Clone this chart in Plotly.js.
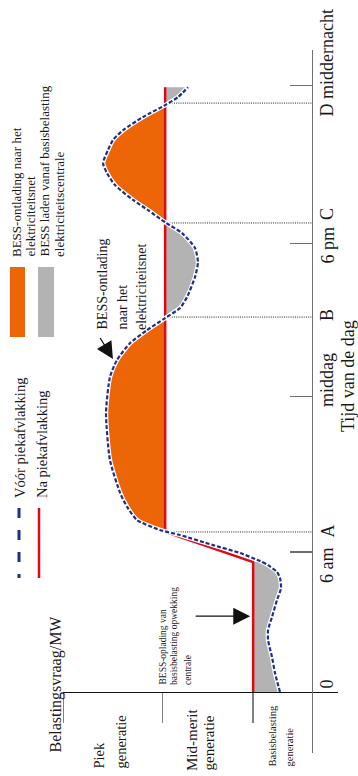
<!DOCTYPE html>
<html><head><meta charset="utf-8">
<script src="https://cdn.plot.ly/plotly-3.0.1.min.js"></script>
<style>html,body{margin:0;padding:0;background:#fff}</style>
</head><body><div id="chart" style="width:358px;height:776px"></div>
<script>
// ---- data (time of day in hours, demand in relative MW units) ----
const tBefore = [0.00,0.75,1.38,2.06,2.45,2.97,3.64,4.11,4.51,4.75,5.02,5.18,5.50,5.81,6.21,6.41,6.80,7.32,7.87,9.17,11.03,12.46,13.13,13.80,14.31,14.79,15.19,15.62,16.41,17.00,17.56,18.15,18.55,19.06,19.46,20.05,20.52,20.92,21.43,21.83,22.22,22.74,23.21,23.53,23.92];
const dBefore = [12.9,14.9,16.1,17.7,17.7,16.1,14.1,12.5,12.9,14.1,17.7,20.9,29.0,39.8,53.1,61.2,70.4,74.4,77.2,81.3,82.9,81.3,78.5,73.2,66.4,59.1,53.1,50.3,47.1,45.9,47.1,52.3,58.7,66.0,72.0,79.3,82.5,84.1,82.1,80.1,76.0,68.0,59.1,53.9,49.9];
const tAfter = [0, 5.14, 6.33, 23.92];
const dAfter = [23.7, 23.7, 59.1, 59.1];
const tCross = [6.33, 14.83, 18.55, 23.29];
const crossLabels = ['A', 'B', 'C', 'D'];
const timeTicks = [5.54, 11.7, 17.75, 24.0];
const demandTicks = [100, 60.3, 23.7];
const seriesNames = ['Vóór piekafvlakking', 'Na piekafvlakking'];
const areaNames = ['BESS-ontlading naar het', 'elektriciteitsnet', 'BESS laden vanaf basisbelasting', 'elektriciteitscentrale'];

// ---- layout geometry ----
const W = 358, H = 776, L = 63, R = 20, T = 50, B = 23;
const PW = W - L - R, PH = H - T - B;
const px = x => (x - L) / PW;
const py = y => (H - B - y) / PH;
const FONT = '"Liberation Serif", "Times New Roman", serif';
const ORANGE = '#EC6608', GRAY = '#B3B3B3', RED = '#E30613', BLUE = '#1D2F8C';

function interp(ts, ds, t) {
  for (let i = 0; i < ts.length - 1; i++) {
    if (t >= ts[i] && t <= ts[i + 1]) {
      const f = (t - ts[i]) / (ts[i + 1] - ts[i]);
      return ds[i] + f * (ds[i + 1] - ds[i]);
    }
  }
  return ds[ds.length - 1];
}
function region(t1, t2, color) {
  const xs = [], ys = [];
  xs.push(interp(tBefore, dBefore, t1)); ys.push(t1);
  tBefore.forEach((t, i) => { if (t > t1 && t < t2) { xs.push(dBefore[i]); ys.push(t); } });
  xs.push(interp(tBefore, dBefore, t2)); ys.push(t2);
  xs.push(interp(tAfter, dAfter, t2)); ys.push(t2);
  for (let i = tAfter.length - 1; i >= 0; i--) { if (tAfter[i] > t1 && tAfter[i] < t2) { xs.push(dAfter[i]); ys.push(tAfter[i]); } }
  xs.push(interp(tAfter, dAfter, t1)); ys.push(t1);
  return { x: xs, y: ys, type: 'scatter', mode: 'lines', fill: 'toself', fillcolor: color, line: { width: 0, color: color }, hoverinfo: 'skip', showlegend: false };
}

const traces = [
  region(0, tAfter[1], GRAY),
  region(tCross[0], tCross[1], ORANGE),
  region(tCross[1], tCross[2], GRAY),
  region(tCross[2], tCross[3], ORANGE),
  region(tCross[3], tAfter[tAfter.length - 1], GRAY)
];
// dotted guide lines at A-D
const dx = [], dy = [];
tCross.forEach(t => { dx.push(interp(tAfter, dAfter, t), 0, null); dy.push(t, t, null); });
traces.push({ x: dx, y: dy, type: 'scatter', mode: 'lines', line: { color: '#222', width: 1, dash: '1px,1.2px' }, hoverinfo: 'skip', showlegend: false });
traces.push({ x: dAfter, y: tAfter, type: 'scatter', mode: 'lines', name: seriesNames[1], line: { color: RED, width: 2.5 }, showlegend: false });
traces.push({ x: dBefore, y: tBefore, type: 'scatter', mode: 'lines', line: { color: '#fff', width: 4.5, shape: 'spline', smoothing: 0.6 }, hoverinfo: 'skip', showlegend: false });
traces.push({ x: dBefore, y: tBefore, type: 'scatter', mode: 'lines', name: seriesNames[0], line: { color: BLUE, width: 2.2, dash: '4px,2px', shape: 'spline', smoothing: 0.6 }, showlegend: false });

// ---- text ----
const ann = [];
function rt(text, x, y, size, yanchor, yref) {
  ann.push({ text: text, xref: 'paper', yref: yref || 'paper', x: px(x), y: yref === 'y' ? y : py(y), xanchor: 'center', yanchor: yanchor || 'bottom', textangle: -90, showarrow: false, font: { family: FONT, size: size, color: '#1a1a1a' }, borderpad: 0 });
}
// legend
rt(areaNames[0], 16, 258, 13);
rt(areaNames[1], 30, 258, 13);
rt(areaNames[2], 44, 258, 13);
rt(areaNames[3], 59, 258, 13);
rt(seriesNames[0], 20, 499, 14.5);
rt(seriesNames[1], 42, 499, 14.5);
// annotations in chart
rt('BESS-ontlading', 102, 331, 14);
rt('naar het', 122, 331, 14);
rt('elektriciteitsnet', 141, 331, 14);
rt('BESS-oplading van', 162, 686, 9.5);
rt('basisbelasting opwekking', 174, 686, 9.5);
rt('centrale', 188, 686, 9.5);
// demand axis labels
rt('Belastingsvraag/MW', 55, 754, 16);
rt('Piek', 98, 770, 14.5);
rt('generatie', 120, 770, 14.5);
rt('Mid-merit', 192, 772, 15);
rt('generatie', 208, 772, 15);
rt('Basisbelasting', 272, 768, 10.5);
rt('generatie', 289, 768, 10.5);
// time labels
rt('0', 326, 690, 18, 'bottom');
rt('6 am', 327, 584, 18, 'bottom');
rt('middag', 327, 408, 18, 'bottom');
rt('6 pm', 327, 265, 18, 'bottom');
rt(crossLabels[0], 327, 539, 18, 'bottom');
rt(crossLabels[1], 327, 322, 18, 'bottom');
rt(crossLabels[2], 327, 221, 18, 'bottom');
rt(crossLabels[3] + ' middernacht', 327, 118, 18);
rt('Tijd van de dag', 348, 433, 18, 'bottom');
// arrows
ann.push({ text: ' ', x: 24.9, y: 3.0, xref: 'x', yref: 'y', showarrow: true, ax: -56, ay: 0, arrowhead: 2, arrowsize: 2.6, arrowwidth: 1.3, arrowcolor: '#111', standoff: 0, startstandoff: 0, font: { size: 1 } });
ann.push({ text: ' ', x: 80.1, y: 13.17, xref: 'x', yref: 'y', showarrow: true, ax: -14, ay: -23, arrowhead: 2, arrowsize: 2.6, arrowwidth: 1.3, arrowcolor: '#111', standoff: 0, startstandoff: 0, font: { size: 1 } });

// legend swatches
const shapes = [
  { type: 'rect', xref: 'paper', yref: 'paper', x0: px(10), x1: px(25), y0: py(267), y1: py(337), fillcolor: ORANGE, line: { width: 0 } },
  { type: 'rect', xref: 'paper', yref: 'paper', x0: px(38), x1: px(54), y0: py(267), y1: py(337), fillcolor: GRAY, line: { width: 0 } },
  { type: 'line', xref: 'paper', yref: 'paper', x0: px(19), x1: px(19), y0: py(508), y1: py(578), line: { color: BLUE, width: 3, dash: '10px,12px' } },
  { type: 'line', xref: 'paper', yref: 'paper', x0: px(39), x1: px(39), y0: py(508), y1: py(578), line: { color: RED, width: 2.5 } }
];

const layout = {
  width: W, height: H,
  margin: { l: L, r: R, t: T, b: B, pad: 0 },
  paper_bgcolor: '#fff', plot_bgcolor: 'rgba(0,0,0,0)',
  showlegend: false,
  xaxis: { range: [100.2, -10.44], anchor: 'free', position: py(692), showline: true, linecolor: '#111', linewidth: 1.3,
           tickmode: 'array', tickvals: demandTicks, ticks: 'outside', ticklen: 30, tickwidth: 1.3, tickcolor: '#808080',
           showticklabels: false, showgrid: false, zeroline: false, fixedrange: true },
  yaxis: { range: [-2.41, 25.39], anchor: 'free', position: px(312), side: 'left', showline: true, linecolor: '#707070', linewidth: 1.3,
           tickmode: 'array', tickvals: timeTicks, ticks: 'outside', ticklen: 22, tickwidth: 1.3, tickcolor: '#707070',
           showticklabels: false, showgrid: false, zeroline: false, fixedrange: true },
  annotations: ann,
  shapes: shapes
};
Plotly.newPlot('chart', traces, layout, { staticPlot: true, displayModeBar: false });
</script></body></html>
